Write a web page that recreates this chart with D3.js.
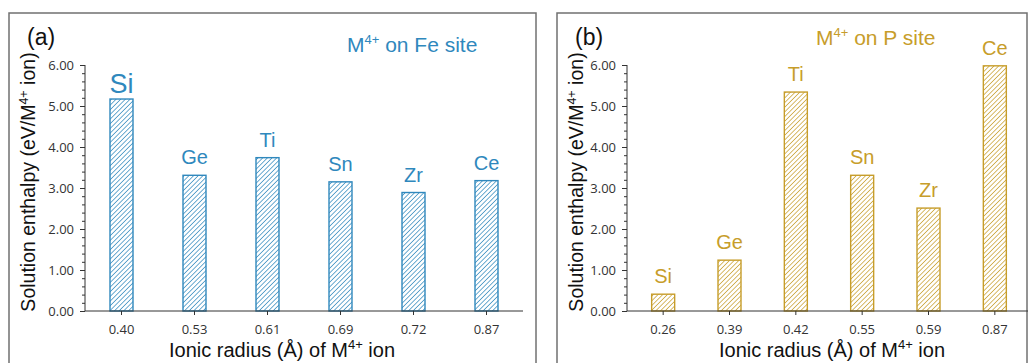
<!DOCTYPE html>
<html>
<head>
<meta charset="utf-8">
<script src="https://cdn.jsdelivr.net/npm/d3@7"></script>
<style>
  body { margin: 0; background: #fff; }
  svg { display: block; font-family: "Liberation Sans", Arial, sans-serif; }
  .tick text { font-family: "Open Sans", sans-serif; }
</style>
</head>
<body>
<div id="chart"></div>
<script>
// data
const elements = ["Si", "Ge", "Ti", "Sn", "Zr", "Ce"];
const feRadius = ["0.40", "0.53", "0.61", "0.69", "0.72", "0.87"];
const feEnthalpy = [5.17, 3.31, 3.74, 3.15, 2.89, 3.18];
const pRadius = ["0.26", "0.39", "0.42", "0.55", "0.59", "0.87"];
const pEnthalpy = [0.41, 1.24, 5.34, 3.31, 2.51, 5.98];
const yTicks = [0, 1, 2, 3, 4, 5, 6];

const W = 1028, H = 363;
const svg = d3.select("#chart").append("svg")
  .attr("width", W).attr("height", H);
const defs = svg.append("defs");

function hatch(id, color) {
  const s = 3.3;
  const p = defs.append("pattern")
    .attr("id", id)
    .attr("patternUnits", "userSpaceOnUse")
    .attr("width", s).attr("height", s)
    .attr("patternTransform", "rotate(45)");
  p.append("rect").attr("width", s).attr("height", s).attr("fill", "#fff");
  p.append("line")
    .attr("x1", 0).attr("y1", 0).attr("x2", 0).attr("y2", s)
    .attr("stroke", color).attr("stroke-width", 1.4);
}

function drawPanel(opt) {
  const g = svg.append("g");

  // panel frame
  g.append("rect")
    .attr("x", opt.frame[0]).attr("y", 13)
    .attr("width", opt.frame[1] - opt.frame[0]).attr("height", H)
    .attr("fill", "none").attr("stroke", "#707070").attr("stroke-width", 1.5);

  const x = d3.scaleBand().domain(opt.radius).range(opt.xRange);
  const y = d3.scaleLinear().domain([0, 6]).range([311, 65]);
  const bw = 23;

  hatch(opt.id, opt.color);

  // minor y ticks
  const yMinor = d3.axisLeft(y).tickValues(d3.range(0, 6.01, 0.2)).tickSize(3).tickFormat("");
  g.append("g").attr("transform", `translate(${opt.axisX},0)`).call(yMinor)
    .call(a => a.select(".domain").remove())
    .selectAll("line").attr("stroke", "#333");

  const yAxis = d3.axisLeft(y).tickValues(yTicks).tickSize(5).tickPadding(6)
    .tickFormat(d3.format(".2f"));
  g.append("g").attr("transform", `translate(${opt.axisX},0)`).call(yAxis)
    .call(a => a.select(".domain").attr("stroke", "#333").attr("d", "M0,311V65H0"))
    .call(a => a.selectAll("line").attr("stroke", "#333"))
    .call(a => a.selectAll("text").attr("font-size", 13).attr("fill", "#333"));

  // bars
  g.selectAll("rect.bar")
    .data(opt.values)
    .join("rect")
    .attr("class", "bar")
    .attr("x", (d, i) => x(opt.radius[i]) + x.bandwidth() / 2 - bw / 2)
    .attr("y", d => y(d))
    .attr("width", bw)
    .attr("height", d => y(0) - y(d))
    .attr("fill", `url(#${opt.id})`)
    .attr("stroke", opt.color)
    .attr("stroke-width", 1.4);

  // x axis
  const xAxis = d3.axisBottom(x).tickSize(4).tickPadding(10).tickSizeOuter(0);
  g.append("g").attr("transform", "translate(0,311)").call(xAxis)
    .call(a => a.select(".domain").attr("stroke", "#333")
      .attr("d", `M${opt.axisX},0H${opt.xRange[1]}`))
    .call(a => a.selectAll("line").attr("stroke", "#333"))
    .call(a => a.selectAll("text").attr("font-size", 13).attr("fill", "#333"));

  // element labels
  g.selectAll("text.el")
    .data(elements)
    .join("text")
    .attr("class", "el")
    .attr("x", (d, i) => x(opt.radius[i]) + x.bandwidth() / 2)
    .attr("y", (d, i) => y(opt.values[i]) - (opt.bigSi && i === 0 ? 6 : 11))
    .attr("text-anchor", "middle")
    .attr("font-size", (d, i) => opt.bigSi && i === 0 ? 27 : 20)
    .attr("fill", opt.color)
    .text(d => d);

  // panel letter
  g.append("text")
    .attr("x", opt.frame[0] + 18).attr("y", 45)
    .attr("font-size", 23).attr("fill", "#111")
    .text(opt.letter);

  // site note
  const note = g.append("text")
    .attr("x", opt.noteX).attr("y", opt.noteY)
    .attr("font-size", 21).attr("fill", opt.color);
  note.append("tspan").text("M");
  note.append("tspan").attr("font-size", 13).attr("dy", -8).text("4+");
  note.append("tspan").attr("dy", 8).text(" on " + opt.site + " site");

  // y title
  const yt = g.append("text")
    .attr("transform", `translate(${opt.frame[0] + 26},182) rotate(-90)`)
    .attr("text-anchor", "middle")
    .attr("font-size", 19.5).attr("fill", "#111");
  yt.append("tspan").text("Solution enthalpy (eV/M");
  yt.append("tspan").attr("font-size", 12.5).attr("dy", -7).text("4+");
  yt.append("tspan").attr("dy", 7).text(" ion)");

  // x title
  const xt = g.append("text")
    .attr("x", opt.xTitleX).attr("y", 357)
    .attr("text-anchor", "middle")
    .attr("font-size", 20).attr("fill", "#111");
  xt.append("tspan").text("Ionic radius (Å) of M");
  xt.append("tspan").attr("font-size", 13).attr("dy", -8).text("4+");
  xt.append("tspan").attr("dy", 8).text(" ion");
}

drawPanel({
  id: "hatchFe", letter: "(a)", site: "Fe", color: "#2f88bd",
  radius: feRadius, values: feEnthalpy, bigSi: true,
  frame: [9, 536], axisX: 85, xRange: [85, 523],
  noteX: 347, noteY: 52, xTitleX: 282
});

drawPanel({
  id: "hatchP", letter: "(b)", site: "P", color: "#c79d2a",
  radius: pRadius, values: pEnthalpy, bigSi: false,
  frame: [557, 1027], axisX: 627, xRange: [630, 1028],
  noteX: 816, noteY: 45, xTitleX: 832
});
</script>
</body>
</html>
